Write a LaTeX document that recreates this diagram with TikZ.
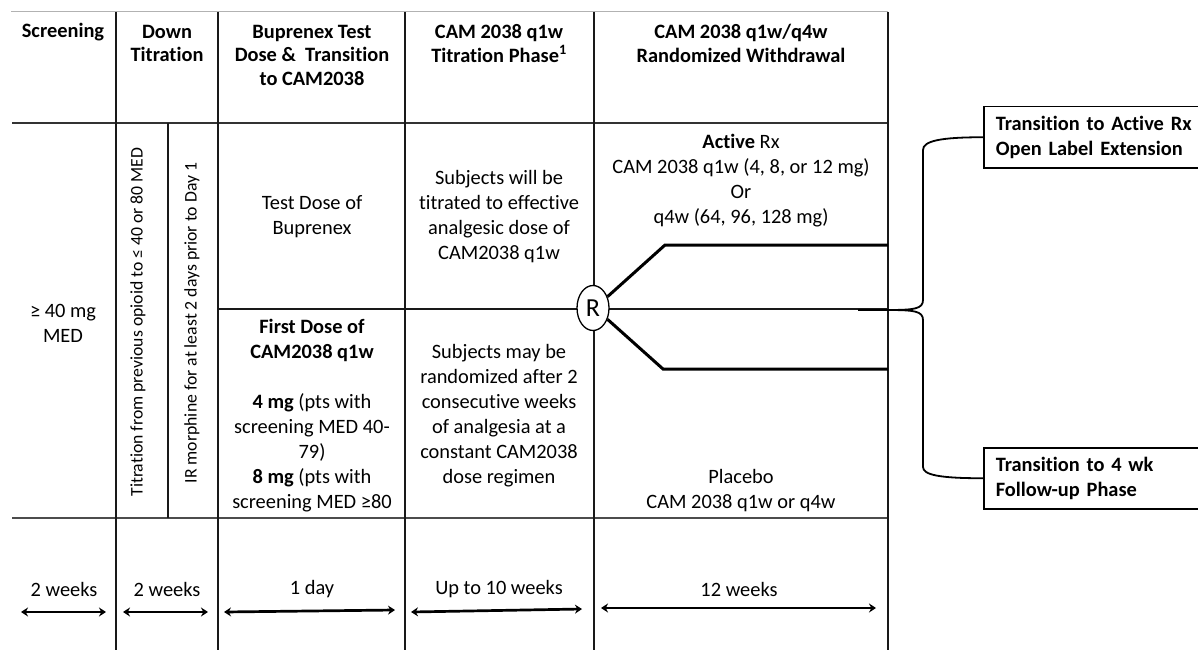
\documentclass[tikz,border=0pt]{standalone}
\usepackage{fontspec}
\setmainfont[Ligatures={NoCommon}]{Carlito}
\usetikzlibrary{shapes.geometric,arrows.meta}
\newcommand\myfs{\fontsize{20.4}{25}\selectfont}
\newcommand\myhfs{\fontsize{20.4}{23.5}\selectfont}
\newcommand\myrfs{\fontsize{17.7}{21}\selectfont}
\begin{document}
\begin{tikzpicture}[x=1pt,y=-1pt,
  grid/.style={line width=1.3pt, draw=black!90},
  txt/.style={align=center, font=\myfs, inner sep=0pt},
  hdr/.style={align=center, font=\myhfs\bfseries, inner sep=0pt},
  rot/.style={font=\myrfs, inner sep=0pt, rotate=90},
  branch/.style={line width=3pt},
  dur/.style={{Stealth[length=7pt,width=9pt]}-{Stealth[length=7pt,width=9pt]}, line width=2.7pt},
  rbox/.style={draw, line width=1.5pt, font=\myfs\bfseries, align=left, anchor=north west, text width=200pt, inner xsep=12pt, inner ysep=4pt, minimum height=61pt},
  bracepath/.style={line width=1.8pt}]
\useasboundingbox (0,0) rectangle (1198,650);

% table lines
\draw[line width=1pt, draw=black!30] (11,12) -- (888,12);
\draw[grid, draw=black!80, line width=1.5pt] (12,123) -- (888,123);
\draw[grid, draw=black!70, line width=1.8pt] (12,518) -- (888,518);
\draw[grid] (218,309) -- (888,309);
\foreach \x in {116,218,405,594,888} \draw[grid] (\x,12) -- (\x,650);
\draw[grid] (168,123) -- (168,518);

% headers
\node[hdr] (h1) at (63,32) {Screening};
\node[hdr] (h2) at (167,43.5) {Down\\Titration};
\node[hdr] (h3) at (312,55) {Buprenex Test\\Dose \&~ Transition\\to CAM2038};
\node[hdr] (h4) at (499,43.5) {CAM 2038 q1w\\Titration Phase\textsuperscript{1}};
\node[hdr] (h5) at (741,43.5) {CAM 2038 q1w/q4w\\Randomized Withdrawal};

% body
\node[txt] (scr) at (63,323) {≥ 40 mg\\MED};
\node[rot] (dt1) at (138,322) {Titration from previous opioid to ≤ 40 or 80 MED};
\node[rot] (dt2) at (192,323) {IR morphine for at least 2 days prior to Day 1};
\node[txt] (tdb) at (312,216.5) {Test Dose of\\Buprenex};
\node[txt] (fd) at (312,415.5) {\textbf{First Dose of}\\\textbf{CAM2038 q1w}\\\strut\\\textbf{4 mg} (pts with\\screening MED 40-\\79)\\\textbf{8 mg} (pts with\\screening MED ≥80};
\node[txt] (sw) at (499,216.5) {Subjects will be\\titrated to effective\\analgesic dose of\\CAM2038 q1w};
\node[txt] (sm) at (499,415.5) {Subjects may be\\randomized after 2\\consecutive weeks\\of analgesia at a\\constant CAM2038\\dose regimen};
\node[txt] (act) at (741,180.5) {\textbf{Active} Rx\\CAM 2038 q1w (4, 8, or 12 mg)\\Or\\q4w (64, 96, 128 mg)};
\node[txt] (pla) at (741,490.5) {Placebo\\CAM 2038 q1w or q4w};

% randomisation
\node[ellipse, draw, fill=white, line width=1.3pt, minimum width=32pt, minimum height=45pt, inner sep=0pt, font=\fontsize{26}{30}\selectfont] (R) at (593,308) {R};
\coordinate (ua) at (665,245);
\coordinate (ub) at (888,245);
\coordinate (la) at (663,369);
\coordinate (lb) at (888,369);
\draw[branch] (R.38) -- (ua) -- (ub);
\draw[branch] (R.-38) -- (la) -- (lb);

% durations
\node[txt] (d1) at (64,589) {2 weeks};
\node[txt] (d2) at (167,589) {2 weeks};
\node[txt] (d3) at (312,589) {1 day};
\node[txt] (d4) at (499,589) {Up to 10 weeks};
\node[txt] (d5) at (739,589) {12 weeks};
\coordinate (a1l) at (21,612); \coordinate (a1r) at (106,612);
\coordinate (a2l) at (123,612); \coordinate (a2r) at (208,612);
\coordinate (a3l) at (224,612); \coordinate (a3r) at (395,610);
\coordinate (a4l) at (411,612); \coordinate (a4r) at (582,609);
\coordinate (a5l) at (601,608); \coordinate (a5r) at (876,608);
\draw[dur] (a1l) -- (a1r);
\draw[dur] (a2l) -- (a2r);
\draw[dur] (a3l) -- (a3r);
\draw[dur] (a4l) -- (a4r);
\draw[dur] (a5l) -- (a5r);

% outcome boxes
\node[rbox] (b1) at (983,106) {Transition to Active Rx\\Open Label Extension};
\node[rbox] (b2) at (983,447) {Transition to 4 wk\\Follow-up Phase};

% brace
\coordinate (bs) at (858,310);
\coordinate (bt) at (887,310);
\draw[bracepath] (bs) -- (bt);
\draw[bracepath] (b1.west) .. controls (940,0 |- b1.west) and (923,141) .. (923,150)
  -- (923,300) .. controls (923,309) and (914,310) .. (bt)
  .. controls (914,310) and (923,311) .. (923,320)
  -- (923,467) .. controls (923,475) and (940,0 |- b2.west) .. (b2.west);
\end{tikzpicture}
\end{document}
